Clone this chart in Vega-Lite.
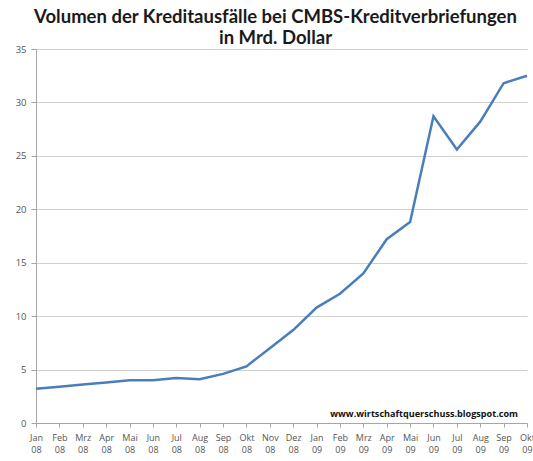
{
  "$schema": "https://vega.github.io/schema/vega-lite/v6.json",
  "width": 491,
  "height": 374,
  "autosize": {"type": "none"},
  "padding": {"left": 36, "top": 49, "right": 6, "bottom": 38},
  "background": "white",
  "title": {
    "text": ["Volumen der Kreditausfälle bei CMBS-Kreditverbriefungen", "in Mrd. Dollar"],
    "font": "Lato",
    "fontSize": 18.5,
    "fontWeight": "bold",
    "color": "#1a1a1a",
    "lineHeight": 21,
    "anchor": "middle",
    "dx": -6,
    "offset": -3
  },
  "config": {
    "view": {"stroke": null},
    "axis": {"labelFont": "Open Sans", "labelColor": "#555555", "domainColor": "#a6a6a6", "tickColor": "#a6a6a6", "gridColor": "#d0d0d0"}
  },
  "data": {
    "values": [
      {"monat": "Jan 08", "wert": 3.2},
      {"monat": "Feb 08", "wert": 3.4},
      {"monat": "Mrz 08", "wert": 3.6},
      {"monat": "Apr 08", "wert": 3.8},
      {"monat": "Mai 08", "wert": 4.0},
      {"monat": "Jun 08", "wert": 4.0},
      {"monat": "Jul 08", "wert": 4.2},
      {"monat": "Aug 08", "wert": 4.1},
      {"monat": "Sep 08", "wert": 4.6},
      {"monat": "Okt 08", "wert": 5.3},
      {"monat": "Nov 08", "wert": 7.0},
      {"monat": "Dez 08", "wert": 8.7},
      {"monat": "Jan 09", "wert": 10.8},
      {"monat": "Feb 09", "wert": 12.1},
      {"monat": "Mrz 09", "wert": 14.0},
      {"monat": "Apr 09", "wert": 17.2},
      {"monat": "Mai 09", "wert": 18.8},
      {"monat": "Jun 09", "wert": 28.7},
      {"monat": "Jul 09", "wert": 25.6},
      {"monat": "Aug 09", "wert": 28.2},
      {"monat": "Sep 09", "wert": 31.8},
      {"monat": "Okt 09", "wert": 32.5}
    ]
  },
  "layer": [
    {
      "mark": {"type": "line", "color": "#4a7ebb", "strokeWidth": 2.5},
      "encoding": {
        "x": {
          "field": "monat", "type": "ordinal", "sort": null,
          "scale": {"type": "point", "padding": 0, "domain": ["Jan 08", "Feb 08", "Mrz 08", "Apr 08", "Mai 08", "Jun 08", "Jul 08", "Aug 08", "Sep 08", "Okt 08", "Nov 08", "Dez 08", "Jan 09", "Feb 09", "Mrz 09", "Apr 09", "Mai 09", "Jun 09", "Jul 09", "Aug 09", "Sep 09", "Okt 09"]},
          "axis": {"title": null, "labelAngle": 0, "labelExpr": "split(datum.label, ' ')", "labelFontSize": 9, "labelLineHeight": 12, "labelPadding": 6, "tickSize": 4, "labelOverlap": false, "labelBaseline": "top"}
        },
        "y": {
          "field": "wert", "type": "quantitative",
          "scale": {"domain": [0, 35], "nice": false},
          "axis": {"title": null, "values": [0, 5, 10, 15, 20, 25, 30, 35], "labelFontSize": 9.5, "tickSize": 5, "labelPadding": 5, "grid": true}
        }
      }
    },
    {
      "data": {"values": [{"monat": "Okt 09", "wert": 0.8, "text": "www.wirtschaftquerschuss.blogspot.com"}]},
      "mark": {"type": "text", "align": "right", "baseline": "middle", "font": "Open Sans", "fontWeight": "bold", "fontSize": 9.1, "color": "#111111", "dx": -9},
      "encoding": {
        "x": {"field": "monat", "type": "ordinal", "sort": null},
        "y": {"field": "wert", "type": "quantitative"},
        "text": {"field": "text"}
      }
    }
  ]
}
